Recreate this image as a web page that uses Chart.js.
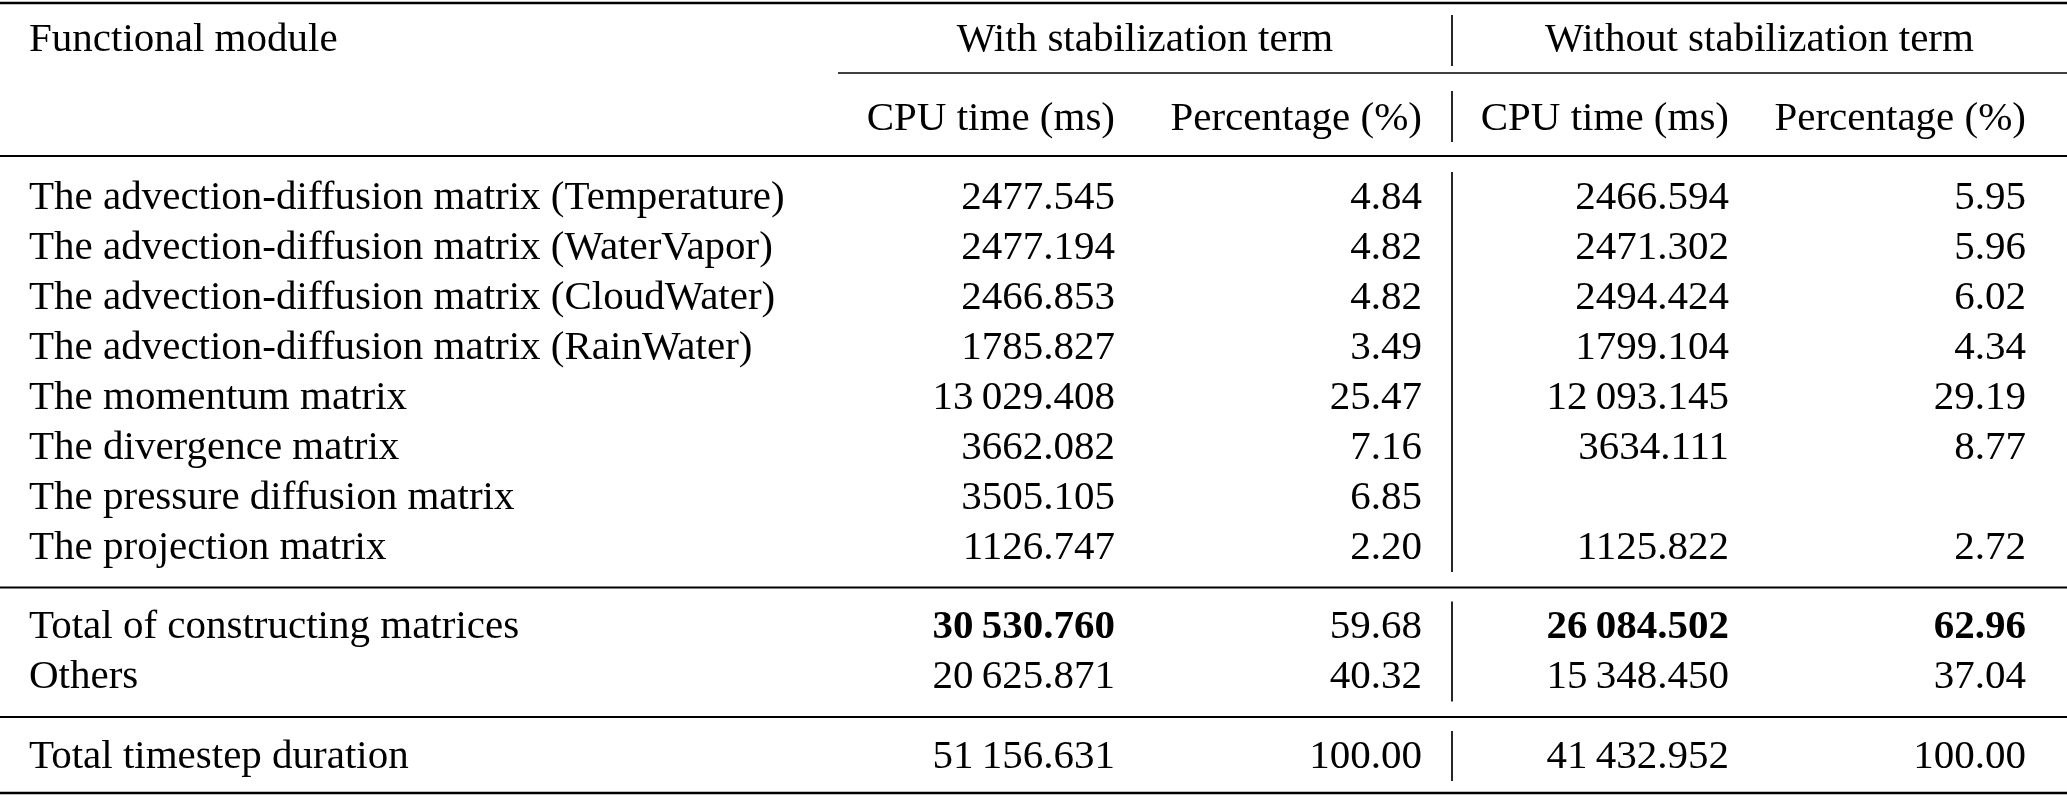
<!DOCTYPE html>
<html>
<head>
<meta charset="utf-8">
<script src="https://cdn.jsdelivr.net/npm/chart.js@4/dist/chart.umd.min.js"></script>
<style>
  html, body { margin: 0; padding: 0; background: #fff; }
  #wrap { width: 2067px; height: 796px; position: relative; }
</style>
</head>
<body>
<div id="wrap"><canvas id="tableChart"></canvas></div>
<script>
// table content
const modules = [
    'The advection-diffusion matrix (Temperature)',
    'The advection-diffusion matrix (WaterVapor)',
    'The advection-diffusion matrix (CloudWater)',
    'The advection-diffusion matrix (RainWater)',
    'The momentum matrix',
    'The divergence matrix',
    'The pressure diffusion matrix',
    'The projection matrix',
    'Total of constructing matrices',
    'Others',
    'Total timestep duration'
];
const withTime = [2477.545, 2477.194, 2466.853, 1785.827, 13029.408, 3662.082, 3505.105, 1126.747, 30530.760, 20625.871, 51156.631];
const withPct = [4.84, 4.82, 4.82, 3.49, 25.47, 7.16, 6.85, 2.20, 59.68, 40.32, 100.00];
const withoutTime = [2466.594, 2471.302, 2494.424, 1799.104, 12093.145, 3634.111, null, 1125.822, 26084.502, 15348.450, 41432.952];
const withoutPct = [5.95, 5.96, 6.02, 4.34, 29.19, 8.77, null, 2.72, 62.96, 37.04, 100.00];
const rowGroup = [0, 0, 0, 0, 0, 0, 0, 0, 1, 1, 2];
const boldCells = [[8, 1], [8, 3], [8, 4]];

const groupHeaders = ['With stabilization term', 'Without stabilization term'];
const columnHeaders = ['Functional module', 'CPU time (ms)', 'Percentage (%)', 'CPU time (ms)', 'Percentage (%)'];

// layout (pixels of the 2067x796 page)
const W = 2067, H = 796;
const colX = [29, 1115, 1422, 1729, 2026];
const barX = 1452;
const cmidStart = 838;
const headY = [37, 116];
const firstRowY = 195, rowStep = 50, groupGap = 29.5;
const FONT = '"Liberation Serif", "Times New Roman", serif';
const FONT_SIZE = 41;

function rowY(i) {
    return firstRowY + i * rowStep + rowGroup[i] * groupGap;
}

function fmt(v, digits) {
    if (v === null) return '';
    const s = v.toFixed(digits);
    const parts = s.split('.');
    let intPart = parts[0];
    if (intPart.length >= 5) {
        intPart = intPart.replace(/\B(?=(\d{3})+(?!\d))/g, '\u2009');
    }
    return intPart + '.' + parts[1];
}

const columns = [
    modules,
    withTime.map(v => fmt(v, 3)),
    withPct.map(v => fmt(v, 2)),
    withoutTime.map(v => fmt(v, 3)),
    withoutPct.map(v => fmt(v, 2))
];

function isBold(r, c) {
    return boldCells.some(b => b[0] === r && b[1] === c);
}

const tablePlugin = {
    id: 'tableDraw',
    afterDatasetsDraw(chart) {
        const ctx = chart.ctx;
        const xs = chart.scales.x, ys = chart.scales.y;
        const px = v => xs.getPixelForValue(v);
        const py = v => ys.getPixelForValue(v);
        const base = FONT_SIZE * 0.33;

        ctx.save();
        ctx.fillStyle = '#000';
        ctx.strokeStyle = '#000';

        function hline(y, x0, x1, w) {
            ctx.lineWidth = w;
            ctx.beginPath();
            ctx.moveTo(px(x0), py(y));
            ctx.lineTo(px(x1), py(y));
            ctx.stroke();
        }
        function vline(y0, y1) {
            ctx.lineWidth = 1.7;
            ctx.beginPath();
            ctx.moveTo(px(barX), py(y0));
            ctx.lineTo(px(barX), py(y1));
            ctx.stroke();
        }

        // header text
        ctx.font = FONT_SIZE + 'px ' + FONT;
        ctx.textAlign = 'left';
        ctx.fillText(columnHeaders[0], px(colX[0]), py(headY[0]) + base);
        ctx.textAlign = 'center';
        ctx.fillText(groupHeaders[0], px((cmidStart + barX) / 2), py(headY[0]) + base);
        ctx.fillText(groupHeaders[1], px((barX + W) / 2), py(headY[0]) + base);
        ctx.textAlign = 'right';
        for (let c = 1; c < columnHeaders.length; c++) {
            ctx.fillText(columnHeaders[c], px(colX[c]), py(headY[1]) + base);
        }

        // body cells, placed on the points the library laid out
        chart.data.datasets.forEach((ds, c) => {
            const meta = chart.getDatasetMeta(c);
            ctx.textAlign = c === 0 ? 'left' : 'right';
            meta.data.forEach((el, r) => {
                const txt = columns[c][r];
                if (!txt) return;
                ctx.font = (isBold(r, c) ? 'bold ' : '') + FONT_SIZE + 'px ' + FONT;
                ctx.fillText(txt, el.x, el.y + base);
            });
        });

        // rules
        const last = modules.length - 1;
        const groupStart = g => rowGroup.indexOf(g);
        const groupEnd = g => rowGroup.lastIndexOf(g);
        hline(3, 0, W, 2.6);
        hline(73, cmidStart, W, 1.7);
        hline(156, 0, W, 1.9);
        hline(rowY(groupStart(1)) - 37, 0, W, 1.9);
        hline(rowY(groupStart(2)) - 37, 0, W, 1.9);
        hline(rowY(last) + 39, 0, W, 2.6);

        // vertical separator, broken at the rules
        vline(headY[0] - 22, headY[0] + 29);
        vline(headY[1] - 25, headY[1] + 26);
        [0, 1, 2].forEach(g => vline(rowY(groupStart(g)) - 23, rowY(groupEnd(g)) + 27));

        ctx.restore();
    }
};

const datasets = columns.map((col, c) => ({
    label: columnHeaders[c],
    data: col.map((_, r) => ({ x: colX[c], y: rowY(r) })),
    pointRadius: 0,
    pointHoverRadius: 0,
    showLine: false
}));

new Chart(document.getElementById('tableChart').getContext('2d'), {
    type: 'scatter',
    data: { datasets: datasets },
    options: {
        responsive: true,
        maintainAspectRatio: false,
        animation: false,
        events: [],
        layout: { padding: 0 },
        plugins: { legend: { display: false }, tooltip: { enabled: false } },
        scales: {
            x: { type: 'linear', min: 0, max: W, display: false },
            y: { type: 'linear', min: 0, max: H, reverse: true, display: false }
        }
    },
    plugins: [tablePlugin]
});
</script>
</body>
</html>
